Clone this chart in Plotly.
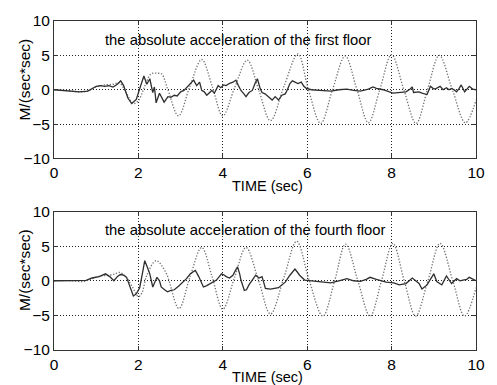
import plotly.graph_objects as go

# ---------------- data ----------------
# first floor, dotted series
t1_dot = [0, 0.3, 0.6, 0.8, 1.0, 1.2, 1.4, 1.55, 1.7, 1.88, 2.0, 2.15, 2.3, 2.45, 2.55, 2.7,
          2.95, 3.22, 3.5, 3.75, 4.0, 4.28, 4.58, 4.85, 5.13, 5.45, 5.78, 6.03, 6.32, 6.6,
          6.9, 7.18, 7.45, 7.72, 8.0, 8.29, 8.58, 8.85, 9.13, 9.44, 9.75, 10]
a1_dot = [0, -0.1, -0.3, -0.2, 0.4, 0.7, 0.8, 1.0, -0.3, -2.0, -1.6, 0.5, 2.3, 2.4, 2.3, 0.0,
          -3.8, 0.5, 4.4, 0.5, -3.8, 0.3, 4.3, 0.0, -4.5, 0.5, 5.2, 0.0, -4.9, 0.0,
          4.9, 0.0, -4.8, 0.0, 5.1, 0.0, -4.9, 0.0, 5.0, 0.0, -4.8, -1.5]

# first floor, solid series
t1_sol = [0, 0.3, 0.6, 0.8, 1.0, 1.1, 1.2, 1.3, 1.4, 1.5, 1.58, 1.65, 1.75, 1.84, 1.95, 2.05,
          2.13, 2.2, 2.27, 2.34, 2.38, 2.42, 2.5, 2.61, 2.7, 2.77, 2.85, 2.92, 3.0, 3.08,
          3.15, 3.23, 3.31, 3.38, 3.45, 3.5, 3.56, 3.62, 3.68, 3.74, 3.8, 3.89, 3.95, 4.02,
          4.08, 4.15, 4.24, 4.31, 4.37, 4.43, 4.5, 4.55, 4.62, 4.7, 4.77, 4.82, 4.88, 4.93,
          5.0, 5.08, 5.17, 5.24, 5.32, 5.4, 5.48, 5.53, 5.59, 5.65, 5.71, 5.78, 5.86, 5.92,
          5.98, 6.1, 6.3, 6.56, 6.75, 6.94, 7.1, 7.26, 7.45, 7.56, 7.64, 7.8, 8.03, 8.2,
          8.34, 8.44, 8.49, 8.52, 8.65, 8.72, 8.84, 8.92, 8.98, 9.03, 9.1, 9.15, 9.22, 9.3,
          9.36, 9.42, 9.48, 9.54, 9.6, 9.65, 9.73, 9.8, 9.84, 9.92, 10]
a1_sol = [0, -0.1, -0.3, -0.2, 0.5, 0.6, 0.5, 0.6, 0.4, 0.8, 1.3, 0.6, -1.2, -2.0, -1.4, 0.5,
          2.0, 0.8, 1.6, -0.4, 0.4, -1.9, -0.5, -1.8, -1.0, -1.1, -0.8, -0.9, -0.3, -0.1,
          0.4, 0.9, 1.4, 0.6, 1.1, -0.1, -0.3, -0.8, -0.4, -0.1, -0.5, 0.6, 0.3, 0.7,
          0.6, 0.9, 1.1, 1.4, 0.6, -0.1, -0.6, -1.0, -0.4, -0.1, 1.0, 1.6, 0.3, -0.4,
          -0.6, -1.0, -1.5, -1.0, -1.5, -0.8, -0.6, 0.0, 0.9, 1.3, 1.1, 0.9, 1.1, 0.5,
          0.2, 0.0, -0.1, -0.2, 0.0, 0.1, -0.1, -0.2, 0.1, 0.4, 0.2, 0.0, -0.5, -0.4,
          -0.3, 0.1, 0.4, -0.4, -0.3, -0.5, -0.7, 0.5, 0.2, 0.1, 0.4, 0.5, 0.0, 0.3,
          0.0, 0.2, 0.0, -0.3, 0.2, 0.7, -0.3, 0.2, 0.5, 0.1, 0.0]

# fourth floor, dotted series
t4_dot = [0, 0.4, 0.7, 0.9, 1.1, 1.3, 1.45, 1.55, 1.7, 1.85, 2.0, 2.08, 2.2, 2.42, 2.65,
          2.96, 3.22, 3.5, 3.75, 4.0, 4.28, 4.55, 4.85, 5.13, 5.45, 5.75, 6.05, 6.37, 6.65,
          6.91, 7.2, 7.49, 7.76, 8.03, 8.3, 8.57, 8.86, 9.15, 9.45, 9.73, 10]
a4_dot = [0, 0, -0.1, 0.3, 0.7, 0.8, 1.0, 1.2, 0.6, -0.8, -2.3, -1.8, 0.8, 2.9, 1.2,
          -4.0, 0.5, 4.8, 0.5, -4.1, 0.5, 4.8, 0.0, -4.8, 0.5, 5.7, 0.0, -5.1, 0.0,
          5.3, 0.0, -5.1, 0.0, 5.4, 0.0, -5.1, 0.0, 5.4, 0.0, -5.1, -1.0]

# fourth floor, solid series
t4_sol = [0, 0.4, 0.76, 0.9, 1.07, 1.22, 1.32, 1.42, 1.5, 1.57, 1.65, 1.72, 1.8, 1.88, 1.95,
          2.03, 2.1, 2.15, 2.21, 2.27, 2.34, 2.44, 2.5, 2.54, 2.62, 2.69, 2.77, 2.85, 2.95,
          3.04, 3.14, 3.23, 3.3, 3.35, 3.43, 3.5, 3.54, 3.62, 3.7, 3.78, 3.85, 3.93, 3.97,
          4.04, 4.08, 4.16, 4.24, 4.3, 4.35, 4.4, 4.43, 4.51, 4.56, 4.62, 4.7, 4.78, 4.86,
          4.93, 5.01, 5.13, 5.32, 5.48, 5.59, 5.66, 5.71, 5.76, 5.82, 5.94, 6.1, 6.3, 6.56,
          6.75, 6.94, 7.1, 7.26, 7.4, 7.49, 7.64, 7.87, 8.05, 8.18, 8.34, 8.45, 8.49, 8.57,
          8.65, 8.72, 8.84, 8.93, 9.0, 9.07, 9.19, 9.3, 9.36, 9.42, 9.54, 9.62, 9.69, 9.78,
          9.84, 9.92, 10]
a4_sol = [0, 0, 0.05, 0.4, 0.6, 1.0, 0.6, 0.0, 0.6, 0.9, 0.8, 0.5, -0.9, -2.2, -1.9,
          -1.0, 1.2, 2.9, 2.0, 1.0, -0.9, 0.5, 0.0, -0.9, -1.3, -1.6, -1.4, -1.3, -0.8,
          -0.3, 0.3, 1.0, 1.3, 1.5, 0.6, -0.5, -0.9, -0.7, -0.4, -0.1, 0.1, 0.7, 1.0,
          0.8, 0.6, 0.4, 0.8, 1.5, 2.0, 1.0, 0.1, -1.4, -1.3, -0.6, 0.2, 0.8, 0.4,
          0.6, -1.1, -1.2, -1.0, -0.2, 0.8, 1.3, 1.7, 1.3, 0.8, 0.1, 0.0, -0.2, -0.3,
          0.0, 0.3, 0.0, -0.1, 0.2, 0.5, 0.2, -0.2, -0.3, -0.6, -0.4, 0.1, 0.4, 0.0,
          -0.4, -1.2, -0.6, 0.3, 1.0, -0.1, -0.6, 0.7, 0.2, -0.4, 0.3, 0.0, 0.1, 0.2,
          0.5, 0.2, 0.0]

x_ticks = [0, 2, 4, 6, 8, 10]
y_ticks = [-10, -5, 0, 5, 10]
titles = ["the absolute acceleration of the first floor",
          "the absolute acceleration of the fourth floor"]
x_label = "TIME (sec)"
y_label = "M/(sec*sec)"

# ---------------- figure ----------------
FONT = "Liberation Sans, Arial, sans-serif"
W, H = 497, 385
ML, MR, MT, MB = 54, 12, 16, 34
plot_h = H - MT - MB  # 335
top_dom = [(351 - 156) / plot_h, 1.0]
bot_dom = [0.0, (351 - 210) / plot_h]

dot_col = "#707070"
sol_col = "#2e2e2e"
dot_style = dict(color=dot_col, width=1.3, dash="1.3px,1.7px", shape="spline", smoothing=1.0)
sol_style = dict(color=sol_col, width=1.3)

fig = go.Figure()
fig.add_trace(go.Scatter(x=t1_dot, y=a1_dot, mode="lines", line=dot_style,
                         xaxis="x", yaxis="y", showlegend=False))
fig.add_trace(go.Scatter(x=t1_sol, y=a1_sol, mode="lines", line=sol_style,
                         xaxis="x", yaxis="y", showlegend=False))
fig.add_trace(go.Scatter(x=t4_dot, y=a4_dot, mode="lines", line=dot_style,
                         xaxis="x2", yaxis="y2", showlegend=False))
fig.add_trace(go.Scatter(x=t4_sol, y=a4_sol, mode="lines", line=sol_style,
                         xaxis="x2", yaxis="y2", showlegend=False))

axis_common = dict(showline=True, linecolor="#333", linewidth=1, mirror="ticks",
                   ticks="inside", ticklen=4, tickcolor="#333",
                   showgrid=True, gridcolor="#222", gridwidth=1, griddash="1px,2px",
                   zeroline=False, tickfont=dict(family=FONT, size=15.5, color="#000"))

fig.update_layout(
    width=W, height=H,
    margin=dict(l=ML, r=MR, t=MT, b=MB),
    paper_bgcolor="white", plot_bgcolor="white",
    xaxis=dict(domain=[0, 1], anchor="y", range=[0, 10], tickvals=x_ticks, **axis_common),
    yaxis=dict(domain=top_dom, anchor="x", range=[-10, 10], tickvals=y_ticks, **axis_common),
    xaxis2=dict(domain=[0, 1], anchor="y2", range=[0, 10], tickvals=x_ticks, **axis_common),
    yaxis2=dict(domain=bot_dom, anchor="x2", range=[-10, 10], tickvals=y_ticks, **axis_common),
)

# panel titles inside the axes
for xr, yr, txt in [("x", "y", titles[0]), ("x2", "y2", titles[1])]:
    fig.add_annotation(x=1.17, y=7.3, xref=xr, yref=yr, text=txt, showarrow=False,
                       xanchor="left", yanchor="middle",
                       font=dict(family=FONT, size=14.8, color="#000"))

# axis labels
def py2paper(py):
    return (H - MB - py) / plot_h

for cy in (184, 378):
    fig.add_annotation(x=(272 - ML) / (W - ML - MR), y=py2paper(cy), xref="paper", yref="paper",
                       text=x_label, showarrow=False, xanchor="center", yanchor="middle",
                       font=dict(family=FONT, size=14.5, color="#000"))
for cy in (76, 270):
    fig.add_annotation(x=(24 - ML) / (W - ML - MR), y=py2paper(cy), xref="paper", yref="paper",
                       text=y_label, showarrow=False, textangle=-90, xanchor="center", yanchor="middle",
                       font=dict(family=FONT, size=15.5, color="#000"))

fig.write_html("out.html")
